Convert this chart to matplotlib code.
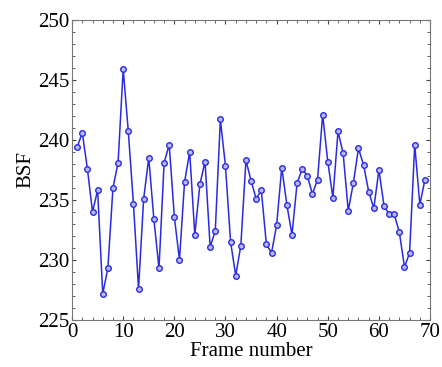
import matplotlib
matplotlib.use('Agg')
import matplotlib.pyplot as plt
from matplotlib.ticker import MultipleLocator

# frame index and BSF values
frames = list(range(1, 70))
bsf = [239.4, 240.6, 237.6, 234.0, 235.8, 227.2, 229.3, 236.0, 238.1, 245.9,
       240.7, 234.7, 227.6, 235.1, 238.5, 233.4, 229.3, 238.1, 239.6, 233.6,
       230.0, 236.5, 239.0, 232.1, 236.3, 238.2, 231.1, 232.4, 241.7, 237.8,
       231.5, 228.7, 231.2, 238.3, 236.6, 235.1, 235.8, 231.3, 230.6, 232.9,
       237.7, 234.6, 232.1, 236.4, 237.6, 237.0, 235.5, 236.7, 242.1, 238.2,
       235.2, 240.7, 238.9, 234.1, 236.4, 239.3, 237.9, 235.7, 234.3, 237.5,
       234.5, 233.8, 233.8, 232.3, 229.4, 230.6, 239.6, 234.6, 236.7]

plt.rcParams['font.family'] = ['Liberation Serif', 'DejaVu Serif']

fig = plt.figure(figsize=(4.42, 3.67), dpi=100)
ax = fig.add_axes([0.163, 0.128, 0.81, 0.818])

ax.plot(frames, bsf, color='#2a2ae0', linewidth=1.1, marker='o', markersize=4,
        markerfacecolor='#b8b8f5', markeredgecolor='#2a2ae0', markeredgewidth=1.0)

ax.set_xlim(0, 70)
ax.set_ylim(225, 250)
ax.xaxis.set_major_locator(MultipleLocator(10))
ax.xaxis.set_minor_locator(MultipleLocator(2))
ax.yaxis.set_major_locator(MultipleLocator(5))
ax.yaxis.set_minor_locator(MultipleLocator(1))
ax.tick_params(which='both', direction='in', top=True, right=True, labelsize=15, colors='#444444',
               labelcolor='black', pad=2)
ax.tick_params(which='major', length=3)
ax.tick_params(which='minor', length=2)
for s in ax.spines.values():
    s.set_color('#777777')

ax.set_xlabel('Frame number', fontsize=15, labelpad=0)
ax.set_ylabel('BSF', fontsize=15, labelpad=2)

fig.savefig('out.png', dpi=100)
